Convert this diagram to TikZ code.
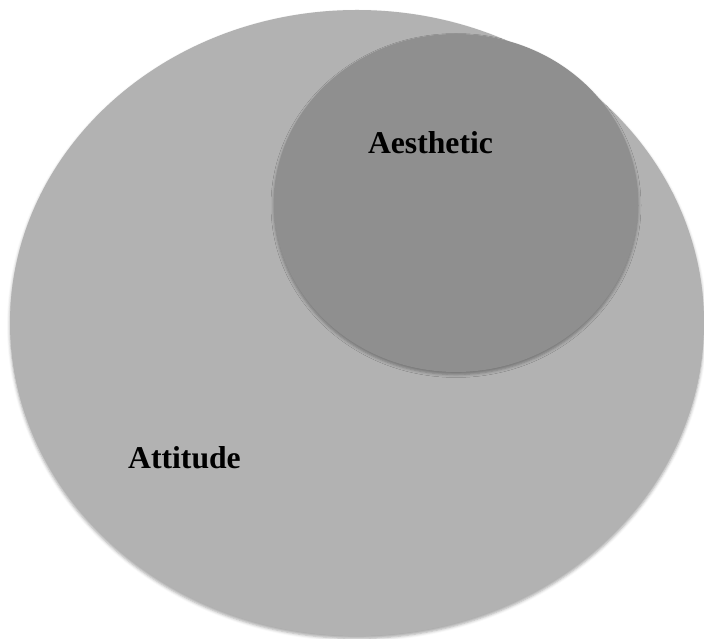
\documentclass[tikz,border=0pt]{standalone}
\usepackage{fontspec}
\setmainfont{Liberation Serif}
\usetikzlibrary{shadows.blur}

\begin{document}
\begin{tikzpicture}[x=1bp,y=1bp,line join=round,line cap=round]

  % ---- reference values (picture points) ----
  % outer ellipse
  \def\outCx{357}      % centre x
  \def\outCy{316}      % centre y
  \def\outRx{347}      % half width
  \def\outRy{313}      % half height
  % inner ellipse
  \def\inCx{456}
  \def\inCy{436}
  \def\inRx{182}
  \def\inRy{169}

  \definecolor{outergray}{RGB}{178,178,178}
  \definecolor{innergray}{RGB}{143,143,143}

  \tikzset{
    softshadow/.style={blur shadow={shadow xshift=0bp,shadow yshift=-2.5bp,
      shadow blur radius=3bp,shadow opacity=35}},
    labeltext/.style={font=\fontsize{31.8}{36}\selectfont\bfseries,inner sep=0pt}
  }

  % ---- page frame ----
  \useasboundingbox (0,0) rectangle (704,639);

  % ---- outer ellipse (attitude) ----
  \fill[outergray,softshadow] (\outCx,\outCy) ellipse [x radius=\outRx,y radius=\outRy];

  % ---- inner ellipse (aesthetic) ----
  \fill[innergray,softshadow] (\inCx,\inCy) ellipse [x radius=\inRx,y radius=\inRy];

  % ---- labels ----
  \node[labeltext,anchor=base] (aesthetic) at (430.5,485) {Aesthetic};
  \node[labeltext,anchor=base] (attitude) at (184.5,170) {Attitude};

\end{tikzpicture}
\end{document}
